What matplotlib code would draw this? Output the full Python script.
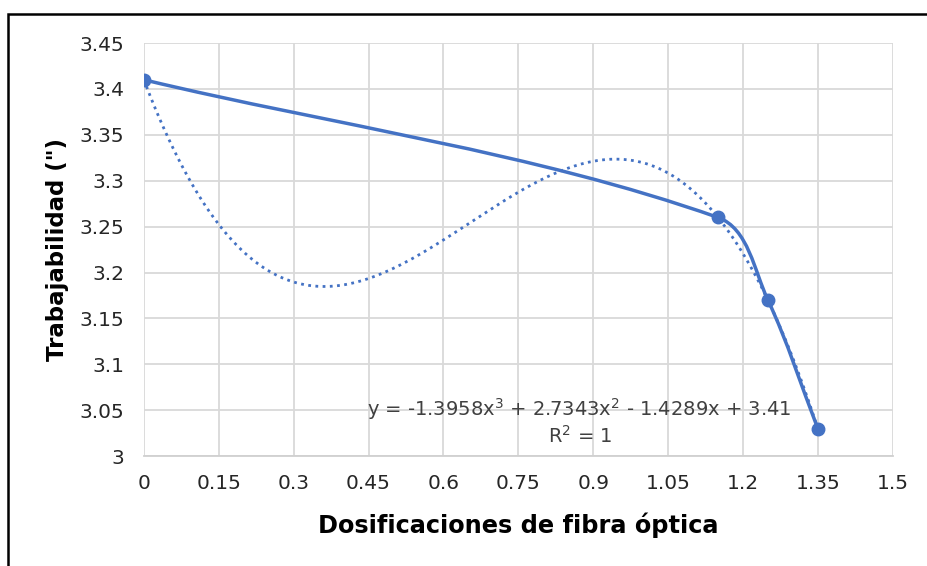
import matplotlib.pyplot as plt
import numpy as np
from matplotlib.path import Path
from matplotlib.patches import PathPatch, Rectangle

plt.rcParams['font.family'] = ['DejaVu Sans']

dosis = [0, 1.15, 1.25, 1.35]
trabajabilidad = [3.41, 3.26, 3.17, 3.03]
x_ticks = [0, 0.15, 0.3, 0.45, 0.6, 0.75, 0.9, 1.05, 1.2, 1.35, 1.5]
x_labels = ["0", "0.15", "0.3", "0.45", "0.6", "0.75", "0.9", "1.05", "1.2", "1.35", "1.5"]
y_ticks = [3, 3.05, 3.1, 3.15, 3.2, 3.25, 3.3, 3.35, 3.4, 3.45]
y_labels = ["3", "3.05", "3.1", "3.15", "3.2", "3.25", "3.3", "3.35", "3.4", "3.45"]
ecuacion = "y = -1.3958x$^3$ + 2.7343x$^2$ - 1.4289x + 3.41\nR$^2$ = 1"

azul = "#4472C4"

fig = plt.figure(figsize=(9.28, 5.66), dpi=100)
ax = fig.add_axes([0.155, 0.194, 0.807, 0.730])
ax.set_xlim(0, 1.5)
ax.set_ylim(3, 3.45)

# smoothed line like excel: bezier, tangents from neighbours, handles = 1/3 of segment (in pixels)
sx = 0.807 * 928 / 1.5
sy = 0.730 * 566 / 0.45
pts = np.column_stack([dosis, trabajabilidad]) * [sx, sy]
n = len(pts)
tang = []
for i in range(n):
    d = pts[min(i + 1, n - 1)] - pts[max(i - 1, 0)]
    tang.append(d / np.hypot(*d))
verts = [pts[0]]
codes = [Path.MOVETO]
for i in range(n - 1):
    L = np.hypot(*(pts[i + 1] - pts[i])) / 3
    verts += [pts[i] + tang[i] * L, pts[i + 1] - tang[i + 1] * L, pts[i + 1]]
    codes += [Path.CURVE4] * 3
verts = np.array(verts) / [sx, sy]
ax.add_patch(PathPatch(Path(verts, codes), fill=False, edgecolor=azul, lw=2.5, zorder=3))
ax.plot(dosis, trabajabilidad, "o", color=azul, ms=9, zorder=4)

# polynomial trendline
coef = np.polyfit(dosis, trabajabilidad, 3)
xt = np.linspace(min(dosis), max(dosis), 300)
ax.plot(xt, np.polyval(coef, xt), color=azul, lw=2, ls=(0, (1, 1.6)), zorder=2)

ax.text(0.873, 3.038, ecuacion, ha="center", va="center", fontsize=14,
        color="#404040", linespacing=1.2)

ax.set_xticks(x_ticks)
ax.set_xticklabels(x_labels)
ax.set_yticks(y_ticks)
ax.set_yticklabels(y_labels)
ax.tick_params(length=0, labelsize=14.5, labelcolor="#262626")
ax.tick_params(axis="x", pad=13)
ax.tick_params(axis="y", pad=14)
ax.grid(True, color="#D9D9D9", lw=1.3)
ax.set_axisbelow(True)
for s in ["top", "right", "left"]:
    ax.spines[s].set_visible(False)
ax.spines["bottom"].set_color("#D0D0D0")
ax.spines["bottom"].set_linewidth(1.3)

ax.set_xlabel("Dosificaciones de fibra óptica", fontsize=17.3, fontweight="bold", labelpad=14)
ax.set_ylabel('Trabajabilidad (")', fontsize=16.5, fontweight="bold", labelpad=8)

fig.patches.append(Rectangle((7.5 / 928, -0.2), 1.2, 1.2 - 13.5 / 566, transform=fig.transFigure,
                             fill=False, edgecolor="black", lw=1.8))

fig.savefig("out.png", dpi=100)
